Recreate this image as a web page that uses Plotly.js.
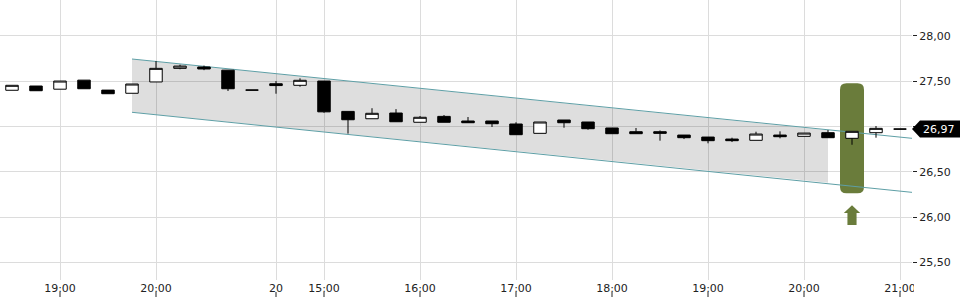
<!DOCTYPE html>
<html>
<head>
<meta charset="utf-8">
<script src="https://cdn.plot.ly/plotly-3.0.1.min.js"></script>
<style>html,body{margin:0;padding:0;background:#fff;}#chart{width:960px;height:300px;}</style>
</head>
<body>
<div id="chart"></div>
<script>
// ---- data ----
var candleIndex = [0,1,2,3,4,5,6,7,8,9,10,11,12,13,14,15,16,17,18,19,20,21,22,23,24,25,26,27,28,29,30,31,32,33,34,35,36,37];
var opens  = [27.398,27.445,27.41,27.51,27.40,27.365,27.49,27.64,27.655,27.62,27.40,27.47,27.453,27.50,27.165,27.084,27.147,27.045,27.11,27.059,27.059,27.026,26.923,27.07,27.048,26.982,26.941,26.941,26.904,26.882,26.86,26.846,26.904,26.89,26.93,26.868,26.93,26.97];
var highs  = [27.453,27.445,27.50,27.51,27.40,27.467,27.72,27.68,27.67,27.62,27.40,27.50,27.53,27.50,27.165,27.20,27.19,27.114,27.125,27.103,27.059,27.045,27.048,27.07,27.048,26.982,26.982,26.955,26.904,26.882,26.875,26.941,26.945,26.926,26.96,26.945,27.004,26.97];
var lows   = [27.398,27.393,27.41,27.415,27.36,27.365,27.49,27.63,27.62,27.39,27.40,27.36,27.437,27.15,26.92,27.084,27.05,27.045,27.045,27.04,26.993,26.908,26.923,26.985,26.963,26.919,26.919,26.842,26.86,26.813,26.827,26.846,26.868,26.89,26.875,26.797,26.875,26.97];
var closes = [27.453,27.393,27.50,27.415,27.36,27.467,27.64,27.665,27.633,27.415,27.40,27.45,27.508,27.16,27.073,27.144,27.051,27.10,27.045,27.04,27.029,26.908,27.048,27.04,26.974,26.919,26.919,26.923,26.875,26.842,26.842,26.915,26.886,26.926,26.875,26.945,26.978,26.97];

var xTickIndex  = [2, 6, 11, 13, 17, 21, 25, 29, 33, 37];
var xTickLabels = ['19:00','20:00','20','15:00','16:00','17:00','18:00','19:00','20:00','21:00'];
var yTickVals   = [25.5, 26.0, 26.5, 27.0, 27.5, 28.0];
var yTickLabels = ['25,50','26,00','26,50','','27,50','28,00'];   // 27,00 is hidden behind the price tag

// trend channel (read values)
var channelX      = [5, 37.5];
var channelUpper  = [27.743, 26.868];
var channelLower  = [27.155, 26.272];
var shadeEndX     = 34;
var shadeEndUpper = 26.958;
var shadeEndLower = 26.378;

// highlighted signal candle
var signalIndex = 35;
var signalLow   = 26.261;
var signalHigh  = 27.475;
var arrowTip    = 26.131;
var arrowNeck   = 26.043;
var arrowBase   = 25.911;

var lastPrice = closes[closes.length - 1];
var lastLabel = lastPrice.toFixed(2).replace('.', ',');

// ---- styles ----
var green = '#6a7c3b';
var teal = '#5e9fa6';
var txt = '#222222';

var shapes = [];
// shaded channel
shapes.push({
  type: 'path', layer: 'between', xref: 'x', yref: 'y',
  path: 'M' + channelX[0] + ',' + channelUpper[0] + ' L' + shadeEndX + ',' + shadeEndUpper +
        ' L' + shadeEndX + ',' + shadeEndLower + ' L' + channelX[0] + ',' + channelLower[0] + ' Z',
  fillcolor: 'rgba(0,0,0,0.13)', line: {width: 0}
});
// green highlight (rounded)
(function () {
  var x0 = signalIndex - 0.5, x1 = signalIndex + 0.5, y0 = signalLow, y1 = signalHigh;
  var rx = 0.27, ry = 0.07;
  var p = 'M' + (x0 + rx) + ',' + y0 + ' L' + (x1 - rx) + ',' + y0 +
    ' Q' + x1 + ',' + y0 + ' ' + x1 + ',' + (y0 + ry) +
    ' L' + x1 + ',' + (y1 - ry) + ' Q' + x1 + ',' + y1 + ' ' + (x1 - rx) + ',' + y1 +
    ' L' + (x0 + rx) + ',' + y1 + ' Q' + x0 + ',' + y1 + ' ' + x0 + ',' + (y1 - ry) +
    ' L' + x0 + ',' + (y0 + ry) + ' Q' + x0 + ',' + y0 + ' ' + (x0 + rx) + ',' + y0 + ' Z';
  shapes.push({type: 'path', layer: 'between', xref: 'x', yref: 'y', path: p, fillcolor: green, line: {width: 0}});
})();
// channel lines
shapes.push({type: 'line', layer: 'between', xref: 'x', yref: 'y', x0: channelX[0], y0: channelUpper[0], x1: channelX[1], y1: channelUpper[1], line: {color: teal, width: 1}});
shapes.push({type: 'line', layer: 'between', xref: 'x', yref: 'y', x0: channelX[0], y0: channelLower[0], x1: channelX[1], y1: channelLower[1], line: {color: teal, width: 1}});
// up arrow
(function () {
  var hw = 0.34, sw = 0.19, c = signalIndex;
  var p = 'M' + c + ',' + arrowTip + ' L' + (c + hw) + ',' + arrowNeck + ' L' + (c + sw) + ',' + arrowNeck +
    ' L' + (c + sw) + ',' + arrowBase + ' L' + (c - sw) + ',' + arrowBase + ' L' + (c - sw) + ',' + arrowNeck +
    ' L' + (c - hw) + ',' + arrowNeck + ' Z';
  shapes.push({type: 'path', layer: 'between', xref: 'x', yref: 'y', path: p, fillcolor: green, line: {width: 0}});
})();
// price tag
shapes.push({
  type: 'path', layer: 'above', xref: 'paper', yref: 'y',
  xsizemode: 'pixel', xanchor: 1, ysizemode: 'pixel', yanchor: lastPrice,
  path: 'M0,0 L8,8.5 L50,8.5 L50,-8.5 L8,-8.5 Z',
  fillcolor: '#000000', line: {width: 0}
});
// clip of the last x label next to the axis
shapes.push({type: 'rect', layer: 'above', xref: 'paper', yref: 'paper', x0: 1 + 2 / 912, x1: 1.06, y0: -0.08, y1: -0.002, fillcolor: '#ffffff', line: {width: 0}});
// x tick marks below labels
xTickIndex.forEach(function (v) {
  shapes.push({type: 'line', layer: 'above', xref: 'x', yref: 'paper', x0: v, x1: v, y0: -12 / 280, y1: -17 / 280, line: {color: txt, width: 1}});
});

var trace = {
  type: 'candlestick',
  x: candleIndex, open: opens, high: highs, low: lows, close: closes,
  increasing: {line: {color: '#000000', width: 1}, fillcolor: '#ffffff'},
  decreasing: {line: {color: '#000000', width: 1}, fillcolor: '#000000'},
  whiskerwidth: 0,
  hoverinfo: 'skip'
};

var layout = {
  width: 960, height: 300,
  margin: {l: 0, r: 48, t: 0, b: 20, pad: 0},
  paper_bgcolor: '#ffffff', plot_bgcolor: '#ffffff',
  font: {family: 'DejaVu Sans', size: 11, color: txt},
  showlegend: false,
  boxgap: 0.48, boxgroupgap: 0,
  xaxis: {
    range: [-0.5, 37.5], rangeslider: {visible: false},
    tickmode: 'array', tickvals: xTickIndex, ticktext: xTickLabels,
    showgrid: true, gridcolor: '#dcdcdc', gridwidth: 1,
    ticks: '', showline: false, zeroline: false, fixedrange: true,
    tickfont: {family: 'DejaVu Sans', size: 11, color: txt}
  },
  yaxis: {
    side: 'right', range: [25.305, 28.394],
    tickmode: 'array', tickvals: yTickVals, ticktext: yTickLabels,
    showgrid: true, gridcolor: '#dcdcdc', gridwidth: 1,
    ticks: 'outside', ticklen: 4, tickwidth: 1, tickcolor: txt,
    showline: false, zeroline: false, fixedrange: true,
    tickfont: {family: 'DejaVu Sans', size: 11, color: txt}
  },
  shapes: shapes,
  annotations: [{
    xref: 'paper', yref: 'y', x: 1, y: lastPrice, xanchor: 'left', yanchor: 'middle',
    xshift: 9, text: lastLabel, showarrow: false,
    font: {family: 'DejaVu Sans', size: 11, color: '#ffffff'}
  }]
};

Plotly.newPlot('chart', [trace], layout, {displayModeBar: false, staticPlot: true});
</script>
</body>
</html>
